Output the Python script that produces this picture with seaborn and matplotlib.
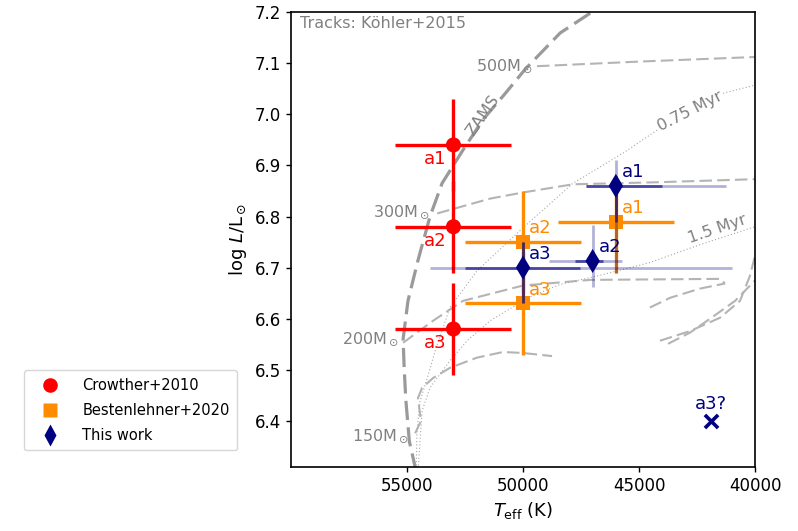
import numpy as np
import pandas as pd
import matplotlib
matplotlib.use("Agg")
import matplotlib.pyplot as plt
import seaborn as sns
from matplotlib.lines import Line2D

# ---------------- data ----------------
# Crowther+2010
c10_names = ["a1", "a2", "a3"]
c10_teff = [53000, 53000, 53000]
c10_logl = [6.94, 6.78, 6.58]
c10_teff_err = [2500, 2500, 2500]
c10_logl_err = [0.09, 0.09, 0.09]

# Bestenlehner+2020
b20_names = ["a1", "a2", "a3"]
b20_teff = [46000, 50000, 50000]
b20_logl = [6.79, 6.75, 6.63]
b20_teff_err = [2500, 2500, 2500]
b20_logl_err_lo = [0.10, 0.10, 0.10]
b20_logl_err_hi = [0.07, 0.10, 0.10]

# This work
tw_names = ["a1", "a2", "a3"]
tw_teff = [46000, 47000, 50000]
tw_logl = [6.86, 6.713, 6.70]
tw_teff_in_lo = [2000, 450, 2450]
tw_teff_in_hi = [1300, 750, 2500]
tw_logl_in_lo = [0.07, 0.01, 0.07]
tw_logl_in_hi = [0.02, 0.01, 0.05]
tw_teff_out_lo = [4750, 1270, 9000]
tw_teff_out_hi = [1300, 1900, 4000]
tw_logl_out_lo = [0.17, 0.05, 0.07]
tw_logl_out_hi = [0.05, 0.07, 0.05]

a3q_teff = [41900]
a3q_logl = [6.40]

# Koehler+2015 tracks
zams_teff = [54600, 54900, 55050, 55120, 55170, 54960, 54530, 54010, 53490,
             52590, 51720, 50780, 49910, 48400, 47030, 46500]
zams_logl = [6.30, 6.36, 6.44, 6.50, 6.56, 6.635, 6.714, 6.80, 6.865,
             6.93, 6.99, 7.04, 7.088, 7.159, 7.20, 7.22]

trk500_teff = [49400, 45000, 40000, 39500]
trk500_logl = [7.094, 7.103, 7.112, 7.113]

trk300_teff = [53700, 51420, 50000, 47850, 44220, 40000, 39500]
trk300_logl = [6.806, 6.835, 6.847, 6.863, 6.867, 6.873, 6.874]

trk200_teff = [55170, 53880, 52590, 50000, 47110, 41500, 41300]
trk200_logl = [6.553, 6.596, 6.635, 6.665, 6.676, 6.678, 6.669]

trk150_teff = [54650, 54400, 54530, 54350, 53880, 53150, 51980, 50860, 50000, 48750]
trk150_logl = [6.376, 6.40, 6.445, 6.465, 6.484, 6.504, 6.524, 6.535, 6.533, 6.527]

late1_teff = [44530, 43660, 42370, 41290]
late1_logl = [6.622, 6.641, 6.659, 6.669]
late2_teff = [44100, 42800, 41510, 40650, 40220, 40000]
late2_logl = [6.557, 6.576, 6.602, 6.635, 6.684, 6.724]
late3_teff = [43750, 42800, 41940, 40860, 40000]
late3_logl = [6.551, 6.573, 6.600, 6.635, 6.675]

iso075_teff = [54610, 54570, 54440, 54100, 53790, 53150, 51980, 50000, 47850,
               45690, 44220, 42800, 41380, 40000]
iso075_logl = [6.30, 6.38, 6.439, 6.488, 6.537, 6.622, 6.694, 6.778, 6.865,
               6.924, 6.969, 7.004, 7.041, 7.057]
iso15_teff = [54530, 54350, 54010, 53150, 52410, 51420, 49700, 48410, 46680,
              44530, 42370, 40000]
iso15_logl = [6.30, 6.42, 6.465, 6.518, 6.557, 6.596, 6.643, 6.667, 6.685,
              6.71, 6.745, 6.78]

mass_labels = [r"500M$_\odot$", r"300M$_\odot$", r"200M$_\odot$", r"150M$_\odot$"]
mass_label_teff = [49550, 54000, 55330, 54900]
mass_label_logl = [7.094, 6.808, 6.561, 6.371]

legend_labels = ["Crowther+2010", "Bestenlehner+2020", "This work"]

# ---------------- style ----------------
sns.set_style("ticks")
plt.rcParams.update({
    "font.family": ["DejaVu Sans"],
    "axes.edgecolor": "black",
    "axes.linewidth": 1.2,
    "xtick.color": "black",
    "ytick.color": "black",
    "text.color": "black",
    "axes.labelcolor": "black",
})

RED = "#ff0000"
ORANGE = "#ff8c00"
NAVY = "#000080"
TRK = "#b4b4b4"
ZAMSC = "#9a9a9a"
TXTG = "#808080"

fig = plt.figure(figsize=(7.98, 5.31), dpi=100)
ax = fig.add_axes([0.3647, 0.1205, 0.5815, 0.8569])

# tracks
sns.lineplot(x=zams_teff, y=zams_logl, sort=False, estimator=None, ax=ax,
             color=ZAMSC, lw=2.3, linestyle=(0, (6, 2.3)), zorder=1)
for tx, ty in [(trk500_teff, trk500_logl), (trk300_teff, trk300_logl),
               (trk200_teff, trk200_logl), (trk150_teff, trk150_logl),
               (late1_teff, late1_logl), (late2_teff, late2_logl),
               (late3_teff, late3_logl)]:
    sns.lineplot(x=tx, y=ty, sort=False, estimator=None, ax=ax,
                 color=TRK, lw=1.5, linestyle=(0, (6, 2.5)), zorder=1)
for tx, ty in [(iso075_teff, iso075_logl), (iso15_teff, iso15_logl)]:
    sns.lineplot(x=tx, y=ty, sort=False, estimator=None, ax=ax,
                 color="#a8a8a8", lw=0.8, linestyle=(0, (1, 2)), zorder=1)

# error bars
ax.errorbar(c10_teff, c10_logl, xerr=c10_teff_err, yerr=c10_logl_err,
            fmt="none", ecolor=RED, elinewidth=2.4, capsize=0, zorder=2)
ax.errorbar(b20_teff, b20_logl, xerr=b20_teff_err,
            yerr=[b20_logl_err_lo, b20_logl_err_hi],
            fmt="none", ecolor=ORANGE, elinewidth=2.4, capsize=0, zorder=2)
sns.scatterplot(x=c10_teff, y=c10_logl, marker="o", s=118, color=RED,
                edgecolor="none", ax=ax, zorder=3)
sns.scatterplot(x=b20_teff, y=b20_logl, marker="s", s=100, color=ORANGE,
                edgecolor="none", ax=ax, zorder=3)

ax.errorbar(tw_teff, tw_logl, xerr=[tw_teff_out_lo, tw_teff_out_hi],
            yerr=[tw_logl_out_lo, tw_logl_out_hi],
            fmt="none", ecolor=NAVY, alpha=0.3, elinewidth=2.0, capsize=0, zorder=4)
ax.errorbar(tw_teff, tw_logl, xerr=[tw_teff_in_lo, tw_teff_in_hi],
            yerr=[tw_logl_in_lo, tw_logl_in_hi],
            fmt="none", ecolor=NAVY, alpha=0.6, elinewidth=2.0, capsize=0, zorder=4)
sns.scatterplot(x=tw_teff, y=tw_logl, marker="d", s=150, color=NAVY,
                edgecolor="none", ax=ax, zorder=5)
sns.scatterplot(x=a3q_teff, y=a3q_logl, marker="x", s=90, color=NAVY,
                linewidth=2.6, ax=ax, zorder=5)

# point labels
for n, x, y in zip(c10_names, c10_teff, c10_logl):
    ax.annotate(n, (x, y), xytext=(-13.5, -10), textcoords="offset points",
                ha="center", va="center", color=RED, fontsize=13, zorder=6)
for n, x, y in zip(b20_names, b20_teff, b20_logl):
    ax.annotate(n, (x, y), xytext=(12.5, 10), textcoords="offset points",
                ha="center", va="center", color=ORANGE, fontsize=13, zorder=6)
for n, x, y in zip(tw_names, tw_teff, tw_logl):
    ax.annotate(n, (x, y), xytext=(12.5, 10), textcoords="offset points",
                ha="center", va="center", color=NAVY, fontsize=13, zorder=6)
ax.annotate("a3?", (a3q_teff[0], a3q_logl[0]), xytext=(0, 12),
            textcoords="offset points", ha="center", va="center",
            color=NAVY, fontsize=13, zorder=6)

# track labels
for lab, x, y in zip(mass_labels, mass_label_teff, mass_label_logl):
    ax.text(x, y, lab, ha="right", va="center", color=TXTG, fontsize=11.5, zorder=2)
ax.text(51750, 6.998, "ZAMS", rotation=55, ha="center", va="center",
        color=TXTG, fontsize=11.5, zorder=2)
ax.text(42800, 7.006, "0.75 Myr", rotation=27, ha="center", va="center",
        color=TXTG, fontsize=11.5, zorder=2,
        bbox=dict(facecolor="white", edgecolor="none", pad=0.5))
ax.text(41640, 6.776, "1.5 Myr", rotation=19, ha="center", va="center",
        color=TXTG, fontsize=11.5, zorder=2)
ax.text(0.019, 0.974, "Tracks: Köhler+2015", transform=ax.transAxes,
        ha="left", va="center", color=TXTG, fontsize=11.5)

# axes
ax.set_xlim(60000, 40000)
ax.set_ylim(6.31, 7.2)
ax.set_xticks([55000, 50000, 45000, 40000])
ax.set_yticks([6.4, 6.5, 6.6, 6.7, 6.8, 6.9, 7.0, 7.1, 7.2])
ax.tick_params(labelsize=12, direction="out", length=3.5, width=1)
ax.set_xlabel(r"$T_\mathrm{eff}$ (K)", fontsize=13)
ax.set_ylabel(r"log $L/\mathrm{L}_\odot$", fontsize=13)
for s in ax.spines.values():
    s.set_visible(True)
    s.set_color("black")

handles = [
    Line2D([], [], ls="none", marker="o", markersize=10.5, color=RED, mec="none"),
    Line2D([], [], ls="none", marker="s", markersize=9.5, color=ORANGE, mec="none"),
    Line2D([], [], ls="none", marker="d", markersize=11, color=NAVY, mec="none"),
]
fig.legend(handles, legend_labels, loc="upper left", bbox_to_anchor=(0.021, 0.316),
           fontsize=10.5, handlelength=2.5, handletextpad=1.0, labelspacing=0.7,
           borderpad=0.5, frameon=True, edgecolor="#cccccc", fancybox=True)

fig.savefig("out.png", dpi=100)
